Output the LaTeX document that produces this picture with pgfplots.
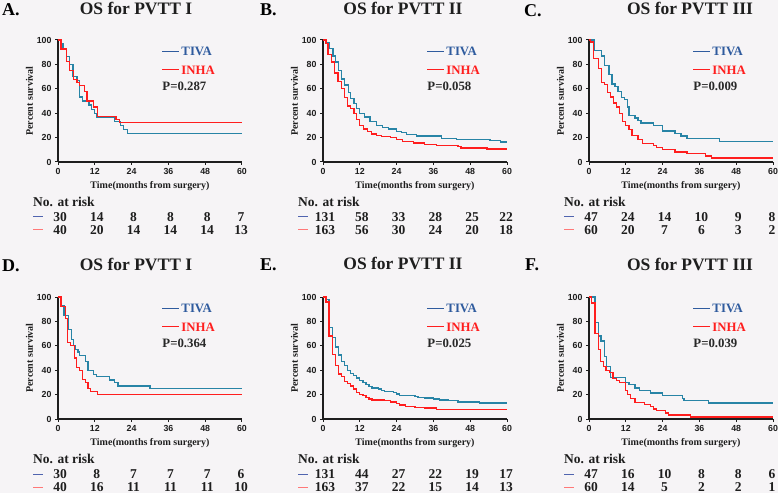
\documentclass[border=0pt]{standalone}
\usepackage{fontspec}
\setmainfont{Liberation Serif}
\newfontfamily\sansf{Liberation Sans}
\usepackage{pgfplots}
\usepackage{pgfplotstable}
\pgfplotsset{compat=1.18}

\definecolor{bgc}{RGB}{246,244,246}
\definecolor{tealc}{RGB}{40,132,166}
\definecolor{tivat}{RGB}{47,91,158}
\definecolor{redc}{RGB}{255,30,30}
\definecolor{pcol}{RGB}{40,40,40}
\definecolor{axc}{RGB}{30,30,30}
\definecolor{rblue}{RGB}{80,100,175}
\definecolor{rred}{RGB}{255,120,120}

% ---------- Panel A ----------
\pgfplotstableread{
t s
0 100
1 96.7
1.6 93.3
2.7 86.7
3.8 80
4.9 70
6.2 66.7
7.1 53.3
8 50
10.1 46.7
10.9 43.3
11.8 40
12.5 36.7
18.5 33.3
20.4 30
21.3 26.7
22.7 23.3
60 23.3
}\tivaA
\pgfplotstableread{
t s
0 100
1 92.5
2.7 82.5
3.8 75
5.1 67.5
6.2 65
7.1 62.5
8.7 57.5
9.5 50
11.5 45
12.8 37.5
18.9 35
20 32.5
60 32.5
}\inhaA
% ---------- Panel B ----------
\pgfplotstableread{
t s
0 100
1 98
2 93
3.3 87
4.1 82
5 75
6 68
7.1 63
8.2 57
9 52
10.1 48
10.9 44
12 40
13.6 37
15.3 33
17.5 30
19.5 28
21.3 27
24 25
25.5 24
27.3 22.5
30.5 21.4
38.7 19.5
43.6 18.4
54.5 17.5
57.8 16.5
60 16.5
}\tivaB
\pgfplotstableread{
t s
0 100
1 97
1.6 88
2.8 82
3.8 73
4.9 66
6 60
7.1 53
8 46
9 44
10.1 40
11 35
12 30
13.1 27
14.5 25
15.8 23
17.5 22
19 21
22 20
24 18.4
26 17
29.5 15.6
33 14.5
37 13.5
44 12.5
45 11.5
53.5 10.7
60 10.7
}\inhaB
% ---------- Panel C ----------
\pgfplotstableread{
t s
0 100
1.6 91.5
4 87
5 79
6.5 72
7.5 64
8.5 62
9.5 57.5
10.5 53
11.5 51
12.5 45
13 38
15 36
16 34
17 31.9
21 29.8
24 25.5
28 23.4
30 21.3
32 19.1
42.5 17
60 17
}\tivaC
\pgfplotstableread{
t s
0 100
0.5 98.3
1.5 85
3 76.7
4 65
5 63.3
6 56.7
7 53.3
8 48.3
9 45
10 40
11 33.3
12 30
13 26.7
14 21.7
16 18.3
17.5 15
21 13.3
22 11.7
24 10
28 8.3
32 6.7
38 5
40 3.3
60 3.3
}\inhaC
% ---------- Panel D ----------
\pgfplotstableread{
t s
0 100
1 93.3
2 85
3.5 73.3
4.4 65
5 60
5.5 56.7
6.5 55
7.1 52
9.05 47
9.8 40
11.5 36.7
12.5 35
16.9 32
18.5 30
19.6 27
30 25
60 25
}\tivaD
\pgfplotstableread{
t s
0 100
1 92.5
2.5 82.5
3 62.5
4 60
5.3 50
6 42.5
7.1 40
8 32.5
9 30
9.8 25
10.6 22.5
12.8 20
60 20
}\inhaD
% ---------- Panel E ----------
\pgfplotstableread{
t s
0 100
1 98
2 75
3 67
4 59
5 52.5
6 47
7 44
8 40
9 37.5
10 35.5
11 33.5
12 31.5
13 30
14 28.5
15 26.5
16 25.5
18 24.5
19 23.5
20 22.5
23 21.5
24 20.5
25 19.5
30 18.5
31 17.8
33 17.2
36 16.5
38 15.5
41 15
44 14
51 13
60 13
}\tivaE
\pgfplotstableread{
t s
0 100
1 96
2 68
3 53
4 44
5 37
6 35
7 31
8 29
9 27
10 24.5
11 22
12 20
13 19
14 17.5
15 16.5
16 15.5
20 15
22 14
24 12.5
25 11.5
27 10.5
30 9.5
33 9
37 8
60 8
}\inhaE
% ---------- Panel F ----------
\pgfplotstableread{
t s
0 100
2 79
3 68
3.9 64
5 51
5.8 43
7 34
12 30
13 28
15 25.5
16.5 23.4
20 21.3
24 19
30.5 17
31 15
39 13
60 13
}\tivaF
\pgfplotstableread{
t s
0 100
0.9 95
2 70
3 57
3.8 47
4.8 43
5.5 40
6.7 38
7.8 33.3
9 31.7
10 30
11.8 23.3
12.5 20
13.5 16.7
15 13.3
18 11.7
20 10
21 8.3
22 6.7
25 5
26 3.3
33 1.7
60 1.7
}\inhaF

\pgfplotsset{
  km/.style={
    scale only axis, width=184pt, height=122pt, anchor=south west,
    xmin=0, xmax=60, ymin=0, ymax=100,
    xtick={0,12,...,60}, ytick={0,20,...,100},
    axis lines*=left,
    tick align=outside, major tick length=3pt,
    axis line style={line width=1.2pt, axc},
    tick style={line width=1pt, axc},
    clip=false,
    tick label style={font=\sansf\bfseries\fontsize{8.8}{9}\selectfont, text=axc},
    /pgf/number format/assume math mode=true,
    xlabel={Time(months from surgery)}, ylabel={Percent survival},
    label style={font=\bfseries\fontsize{10}{11}\selectfont, text=axc},
    xlabel style={at={(axis description cs:0.5,-0.197)}, anchor=center},
    ylabel style={at={(axis description cs:-0.155,0.5)}, anchor=center},
  },
  tivaline/.style={const plot, no marks, color=tealc, line width=1.3pt},
  inhaline/.style={const plot, no marks, color=redc, line width=1.3pt},
}

\newcommand{\legfont}{\bfseries\fontsize{12.8}{14}\selectfont}
\newcommand{\riskfont}{\bfseries\fontsize{13.5}{15}\selectfont}

% #1 ox, #2 oy, #3 P value, #4 tiva table, #5 inha table
\newcommand{\kmpanel}[5]{%
  \begin{axis}[km, at={(#1pt,#2pt)}]
    \addplot[tivaline] table[x=t,y=s] {#4};
    \addplot[inhaline] table[x=t,y=s] {#5};
    \draw[tivat, line width=1.2pt] (axis cs:34,90.5) -- (axis cs:39.6,90.5);
    \node[anchor=west, text=tivat, font=\legfont, inner sep=0pt] at (axis cs:40.2,90.5) {TIVA};
    \draw[redc, line width=1.2pt] (axis cs:34,75.5) -- (axis cs:39.6,75.5);
    \node[anchor=west, text=redc, font=\legfont, inner sep=0pt] at (axis cs:40.2,75.5) {INHA};
    \node[anchor=west, text=pcol, font=\legfont, inner sep=0pt] at (axis cs:34,62) {P=#3};
  \end{axis}%
}

% #1 ox, #2 oy, #3 tiva list, #4 inha list
\newcommand{\risk}[4]{%
  \node[anchor=west, font=\riskfont, text=axc, inner sep=0pt] at ({#1-25},{#2-40}) {No. at risk};
  \draw[rblue, line width=1pt] ({#1-25},{#2-55}) -- ({#1-15},{#2-55});
  \draw[rred, line width=1pt] ({#1-25},{#2-68}) -- ({#1-15},{#2-68});
  \foreach \v [count=\i from 0] in {#3} {\node[font=\riskfont, text=axc, inner sep=0pt] at ({#1+\i*36.8+ifthenelse(\i<5,2,-1)},{#2-55}) {\v};}
  \foreach \v [count=\i from 0] in {#4} {\node[font=\riskfont, text=axc, inner sep=0pt] at ({#1+\i*36.8+ifthenelse(\i<5,2,-1)},{#2-68}) {\v};}
}

\begin{document}
\begin{tikzpicture}[x=1pt,y=1pt]
  \path[use as bounding box, fill=bgc] (0,0) rectangle (778,493);

  % panel letters and titles
  \begin{scope}[every node/.style={font=\bfseries\fontsize{18}{20}\selectfont, text=black, anchor=west, inner sep=0pt}]
    \node at (2,483) {A.};
    \node at (260,483) {B.};
    \node at (524,482) {C.};
    \node at (2,227) {D.};
    \node at (260,228) {E.};
    \node at (525,228) {F.};
  \end{scope}
  \begin{scope}[every node/.style={font=\bfseries\fontsize{17.5}{19}\selectfont, text=axc, inner sep=0pt}]
    \node at (136,485) {OS for PVTT I};
    \node at (403,485) {OS for PVTT II};
    \node at (690,485) {OS for PVTT III};
    \node at (136,229) {OS for PVTT I};
    \node at (403,230) {OS for PVTT II};
    \node at (690,229) {OS for PVTT III};
  \end{scope}

  \kmpanel{58}{331}{0.287}{\tivaA}{\inhaA}
  \kmpanel{323}{331}{0.058}{\tivaB}{\inhaB}
  \kmpanel{589}{331}{0.009}{\tivaC}{\inhaC}
  \kmpanel{58}{74}{0.364}{\tivaD}{\inhaD}
  \kmpanel{323}{74}{0.025}{\tivaE}{\inhaE}
  \kmpanel{589}{74}{0.039}{\tivaF}{\inhaF}

  \risk{58}{331}{30,14,8,8,8,7}{40,20,14,14,14,13}
  \risk{323}{331}{131,58,33,28,25,22}{163,56,30,24,20,18}
  \risk{589}{331}{47,24,14,10,9,8}{60,20,7,6,3,2}
  \risk{58}{74}{30,8,7,7,7,6}{40,16,11,11,11,10}
  \risk{323}{74}{131,44,27,22,19,17}{163,37,22,15,14,13}
  \risk{589}{74}{47,16,10,8,8,6}{60,14,5,2,2,1}
\end{tikzpicture}
\end{document}
